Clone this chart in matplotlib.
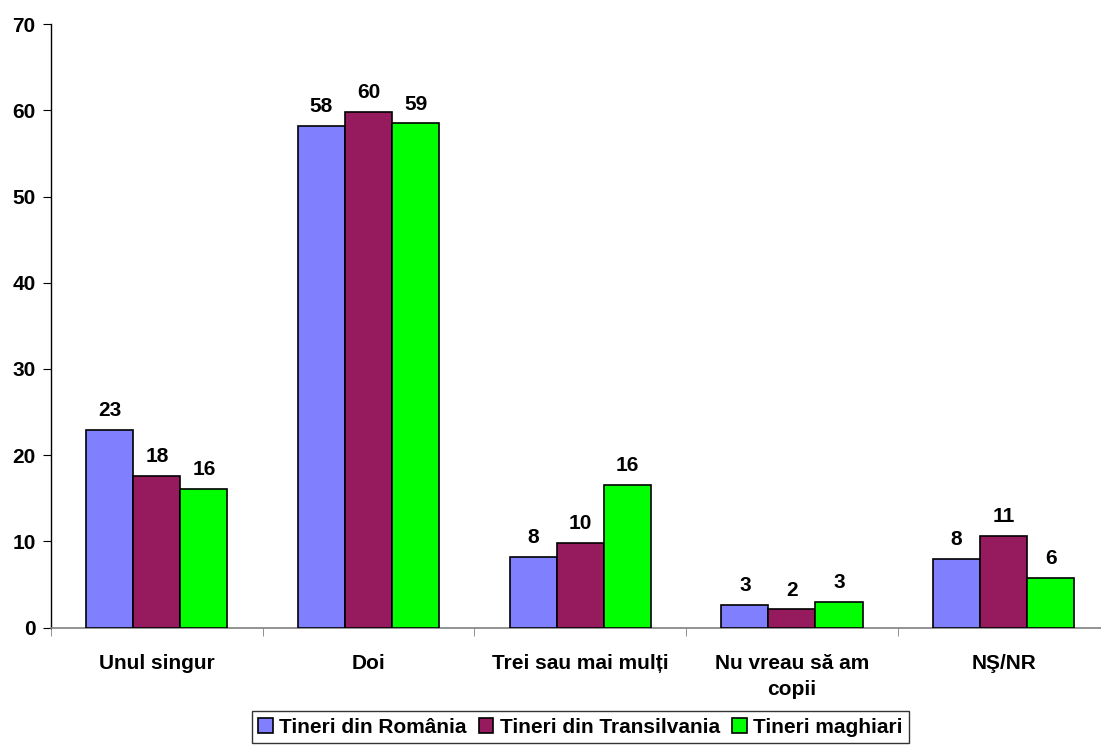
import numpy as np
import matplotlib.pyplot as plt

plt.rcParams['font.family'] = ['Liberation Sans', 'DejaVu Sans']
plt.rcParams['font.weight'] = 'bold'

# date
categorii = ['Unul singur', 'Doi', 'Trei sau mai mulți', 'Nu vreau să am\ncopii', 'NŞ/NR']
serii = ['Tineri din România', 'Tineri din Transilvania', 'Tineri maghiari']
romania = [22.9, 58.2, 8.15, 2.6, 7.95]
transilvania = [17.6, 59.8, 9.8, 2.1, 10.6]
maghiari = [16.1, 58.5, 16.5, 3.0, 5.7]
etichete_romania = ['23', '58', '8', '3', '8']
etichete_transilvania = ['18', '60', '10', '2', '11']
etichete_maghiari = ['16', '59', '16', '3', '6']
culori = ['#8080FF', '#961B5E', '#00FF00']

fig = plt.figure(figsize=(11.01, 7.45), dpi=100)
ax = fig.add_axes([51/1101, 117.5/745, 1058.5/1101, 603.2/745])

x = np.arange(len(categorii))
w = 1/4.5
valori = [romania, transilvania, maghiari]
etichete = [etichete_romania, etichete_transilvania, etichete_maghiari]
for i in range(3):
    pos = x + (i - 1) * w
    ax.bar(pos, valori[i], w, color=culori[i], edgecolor='black', linewidth=1.2,
           label=serii[i], zorder=3)
    for p, v, t in zip(pos, valori[i], etichete[i]):
        ax.annotate(t, (p, v), xytext=(0, 10), textcoords='offset points',
                    ha='center', va='baseline', fontsize=15, fontweight='bold')

ax.set_xlim(-0.5, len(categorii) - 0.5)
ax.set_ylim(0, 70)
ax.set_yticks(range(0, 71, 10))
ax.set_xticks(x)
ax.set_xticklabels(categorii, fontsize=15, fontweight='bold', va='top', linespacing=1.45)
ax.set_xticks(np.arange(-0.5, len(categorii)), minor=True)
ax.tick_params(axis='x', which='major', length=0, pad=19)
ax.tick_params(axis='x', which='minor', length=6, color='#808080', direction='out')
ax.tick_params(axis='y', length=6, labelsize=15, pad=5)
for lab in ax.get_yticklabels():
    lab.set_fontweight('bold')

ax.spines['top'].set_visible(False)
ax.spines['right'].set_visible(False)
ax.spines['bottom'].set_color('#808080')
ax.spines['bottom'].set_linewidth(1.2)
ax.spines['left'].set_linewidth(1)

leg = ax.legend(loc='center', bbox_to_anchor=(0.5, -0.165), ncol=3, fontsize=15,
                frameon=True, fancybox=False, edgecolor='black', handlelength=0.7,
                handleheight=0.7, handletextpad=0.3, columnspacing=0.6,
                borderpad=0.3, borderaxespad=0)
leg.get_frame().set_linewidth(1)
for t in leg.get_texts():
    t.set_fontweight('bold')

plt.savefig('out.png', dpi=100)
plt.close()
